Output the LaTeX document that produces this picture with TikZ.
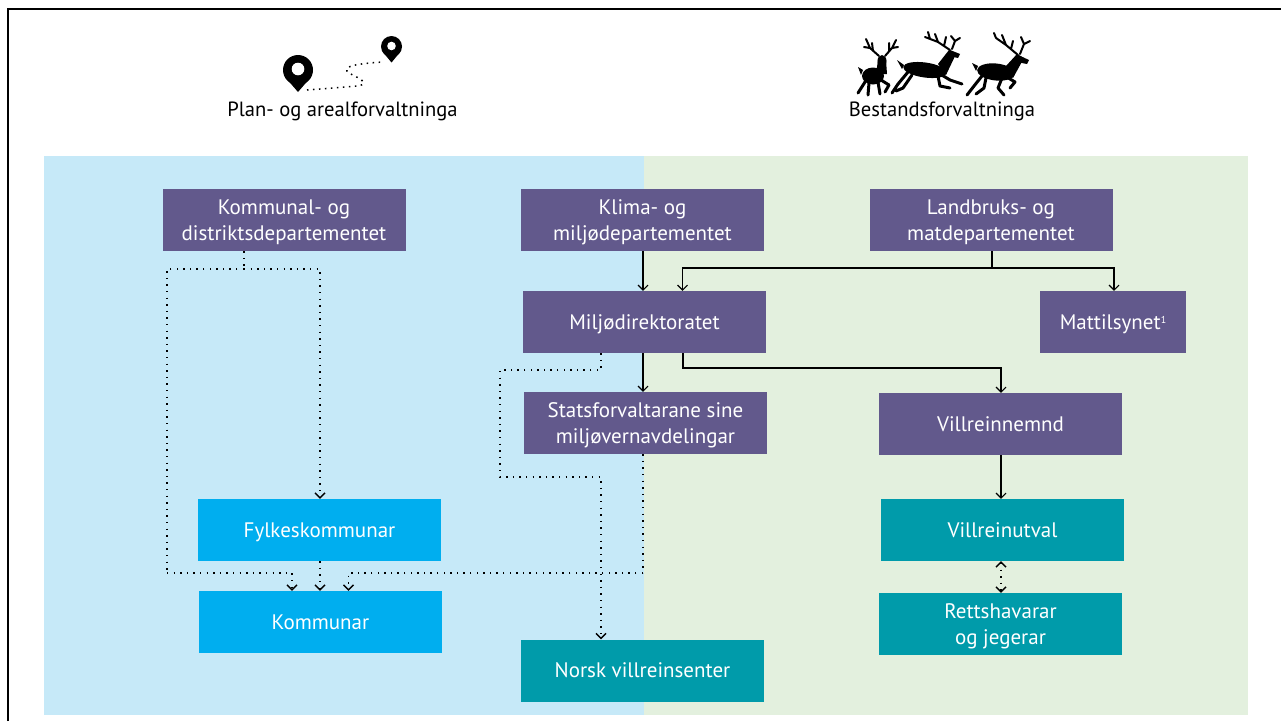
\documentclass[tikz,border=0pt]{standalone}
\usepackage{fontspec}
\setmainfont{PT Sans}
\usetikzlibrary{arrows.meta}
\definecolor{purp}{RGB}{98,89,140}
\definecolor{lblue}{RGB}{0,174,239}
\definecolor{teal}{RGB}{0,155,170}
\definecolor{bgblue}{RGB}{198,233,248}
\definecolor{bggreen}{RGB}{227,240,222}
\begin{document}
\begin{tikzpicture}[x=1pt,y=-1pt,
  box/.style={rectangle, minimum width=243pt, minimum height=62pt, inner sep=0pt,
    text=white, align=center, text depth=0pt, font=\fontsize{21}{26}\selectfont},
  pbox/.style={box, fill=purp},
  bbox/.style={box, fill=lblue},
  tbox/.style={box, fill=teal},
  solidarr/.style={line width=1.1pt, -{Straight Barb[length=5pt,width=10pt]}},
  solidln/.style={line width=1.1pt},
  dotln/.style={line width=1.4pt, dash pattern=on 1.4pt off 5.2pt},
  dotarr/.style={dotln, -{Straight Barb[length=5pt,width=10pt]}},
  title/.style={font=\fontsize{20.6}{24}\selectfont, text=black, inner sep=0pt},
  deer/.style={fill=black, draw=black, line join=round}]
\useasboundingbox (0,0) rectangle (1281,721);
\fill[white] (0,0) rectangle (1281,721);
% frame
\draw[line width=2pt] (8,721) -- (8,9.3) -- (1281,9.3);
% panels
\fill[bgblue] (44,156) rectangle (644,715);
\fill[bggreen] (644,156) rectangle (1248,715);

% titles
\node[title] (t1) at (342.5,111) {Plan- og arealforvaltninga};
\node[title] (t2) at (942,111) {Bestandsforvaltninga};

% map pins icon
\draw[line width=1.5pt, dash pattern=on 1.5pt off 4.5pt]
  (307,90) -- (358,86) .. controls (372,83) and (356,77) .. (349,73)
  .. controls (341,67) and (352,64) .. (383,62);
\fill[black] (298,70) circle (15);
\fill[black] (284.6,76.5) -- (298,92) -- (311.4,76.5) -- cycle;
\fill[white] (298,69) circle (6.3);
\fill[black] (391.5,46.5) circle (10.5);
\fill[black] (382.2,51.3) -- (391.5,62.5) -- (400.8,51.3) -- cycle;
\fill[white] (391.5,46) circle (4.3);

% reindeer 1 (standing, facing viewer)
\begin{scope}[deer]
\fill (873,76) ellipse (11 and 8.5);
\fill (878,60) -- (886,60) -- (887,74) -- (876,74) -- cycle;
\fill (882,61) ellipse (4.5 and 6);
\draw[line width=2pt, fill=none, line cap=round]
  (879,56) -- (870,48) -- (866,39) (870,48) -- (864,47) (873,51) -- (872,43)
  (885,56) -- (892,48) -- (896,40) (892,48) -- (898,47) (889,51) -- (889,43);
\draw[line width=3pt, fill=none, line cap=round]
  (865,82) -- (858,93) (869,83) -- (868,95)
  (881,80) -- (889,85) -- (885,92) (878,82) -- (880,94);
\fill (863,70) -- (858,67) -- (861,75) -- cycle;
\end{scope}
% reindeer 2 (leaping)
\begin{scope}[deer]
\fill[rotate around={-8:(925,70)}] (925,70) ellipse (22 and 7.5);
\fill (938,64) -- (949,50) -- (956,54) -- (946,75) -- cycle;
\fill (950,50) -- (960,54) -- (958,58) -- (949,56) -- cycle;
\draw[line width=2pt, fill=none, line cap=round]
  (950,50) -- (938,42) -- (925,37) (938,42) -- (935,34) (944,46) -- (946,37)
  (930,39) -- (928,32) (952,49) -- (955,41) -- (960,38) (955,41) -- (951,36);
\draw[line width=3pt, fill=none, line cap=round]
  (908,72) -- (898,84) -- (892,93) (912,75) -- (903,88) -- (896,91)
  (940,74) -- (950,80) -- (962,84) (938,76) -- (940,86) -- (950,88);
\fill (904,65) -- (897,60) -- (902,69) -- cycle;
\end{scope}
% reindeer 3 (running)
\begin{scope}[deer]
\fill[rotate around={-6:(996,72)}] (996,72) ellipse (19 and 8.5);
\fill (1006,66) -- (1017,54) -- (1024,58) -- (1013,78) -- cycle;
\fill (1018,55) -- (1029,60) -- (1027,64) -- (1017,62) -- cycle;
\draw[line width=2pt, fill=none, line cap=round]
  (1018,55) -- (1006,45) -- (996,38) (1006,45) -- (1002,35) (1011,49) -- (1013,41)
  (996,38) -- (994,33) (1020,54) -- (1024,44) -- (1030,41) (1024,44) -- (1021,37);
\draw[line width=3pt, fill=none, line cap=round]
  (982,76) -- (974,86) -- (967,95) (986,78) -- (984,88) -- (976,94)
  (1005,76) -- (1015,82) -- (1010,88) (1002,78) -- (998,88) -- (1004,95);
\fill (978,66) -- (972,63) -- (976,71) -- cycle;
\end{scope}

% boxes
\node[pbox] (kdd) at (284,220) {Kommunal- og\\distriktsdepartementet};
\node[pbox] (kmd) at (642.5,220) {Klima- og\\miljødepartementet};
\node[pbox] (lmd) at (991,220) {Landbruks- og\\matdepartementet};
\node[pbox] (mdir) at (644.5,322) {Miljødirektoratet};
\node[pbox, minimum width=146pt] (matt) at (1113,322) {Mattilsynet\raisebox{0.6ex}{\fontsize{10}{10}\selectfont 1}};
\node[pbox] (stat) at (645.5,423) {Statsforvaltarane sine\\miljøvernavdelingar};
\node[pbox] (vnem) at (1000.5,424) {Villreinnemnd};
\node[bbox] (fylk) at (319.5,530) {Fylkeskommunar};
\node[bbox] (komm) at (320.5,622) {Kommunar};
\node[tbox] (vutv) at (1002.5,530) {Villreinutval};
\node[tbox] (rett) at (1000.5,624) {Rettshavarar\\og jegerar};
\node[tbox] (norsk) at (642.5,670.5) {Norsk villreinsenter};

% helper coordinates
\coordinate (xa) at (643,0);
\coordinate (xb) at (682.5,0);
\coordinate (xd) at (1114,0);
\coordinate (xe) at (1001,0);
\coordinate (xh) at (320,0);
\coordinate (xi) at (292,0);
\coordinate (xj) at (348.5,0);
\coordinate (xk) at (601,0);
\coordinate (j1) at (992,268);
\coordinate (j2) at (683,368);
\coordinate (j3) at (244,269);
\coordinate (j4) at (601,370);
\coordinate (j5) at (643,573);
\coordinate (j6) at (167,573);
\coordinate (j7) at (500,477);

% solid connectors
\draw[solidarr] (xa |- kmd.south) -- (xa |- mdir.north);
\draw[solidln] (lmd.south -| j1) -- (j1);
\draw[solidarr] (j1) -| (xb |- mdir.north);
\draw[solidarr] (j1) -| (xd |- matt.north);
\draw[solidarr] (xa |- mdir.south) -- (xa |- stat.north);
\draw[solidarr] (j2 |- mdir.south) -- (j2) -| (xe |- vnem.north);
\draw[solidarr] (xe |- vnem.south) -- (xe |- vutv.north);

% dotted connectors
\draw[dotln] (j3 |- kdd.south) -- (j3);
\draw[dotarr] (j3) -| (xh |- fylk.north);
\draw[dotln] (j3) -| (j6);
\draw[dotarr] (j6) -| (xi |- komm.north);
\draw[dotarr] (xh |- fylk.south) -- (xh |- komm.north);
\draw[dotln] (j5 |- stat.south) -- (j5);
\draw[dotarr] (j5) -| (xj |- komm.north);
\draw[dotarr] (j4 |- mdir.south) -- (j4) -| (j7) -| (xk |- norsk.north);
\draw[dotln, {Straight Barb[length=5pt,width=10pt]}-{Straight Barb[length=5pt,width=10pt]}]
  (xe |- vutv.south) -- (xe |- rett.north);
\end{tikzpicture}
\end{document}
